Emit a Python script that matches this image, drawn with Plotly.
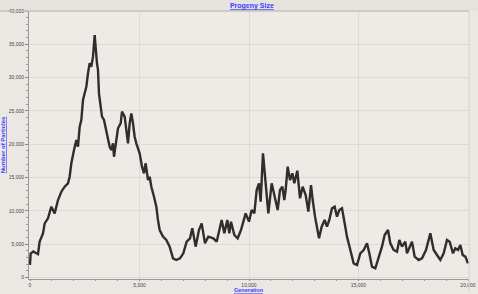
import plotly.graph_objects as go

generation = [0, 30, 150, 365, 441, 594, 670, 822, 974, 1126, 1279, 1431, 1583, 1735, 1811, 1887,
              2009, 2116, 2192, 2268, 2344, 2420, 2496, 2572, 2648, 2724, 2800, 2877, 2953, 2998,
              3059, 3105, 3150, 3227, 3288, 3379, 3485, 3561, 3638, 3714, 3790, 3835, 3942, 4018,
              4140, 4201, 4323, 4399, 4475, 4551, 4627, 4703, 4779, 4855, 5007, 5114, 5205, 5281,
              5388, 5464, 5540, 5662, 5768, 5844, 5921, 6073, 6225, 6377, 6530, 6682,
              6849, 7001, 7153, 7306, 7412, 7564, 7716, 7838, 7990, 8142, 8371, 8523, 8630, 8751,
              8873, 9010, 9101, 9178, 9330, 9482, 9634, 9741, 9847, 9999, 10121, 10243, 10350,
              10456, 10532, 10639, 10700, 10776, 10883, 11035, 11141, 11217, 11309, 11415, 11522,
              11613, 11674, 11765, 11872, 11979, 12070, 12207, 12329, 12451, 12588, 12710, 12832,
              12908, 13015, 13197, 13319, 13454, 13561, 13667, 13790, 13911, 14018, 14125, 14246,
              14368, 14474, 14627, 14779, 14931, 15083, 15236, 15388, 15494, 15616, 15768, 15920,
              16072, 16194, 16347, 16453, 16605, 16757, 16864, 16986, 17138, 17214, 17321, 17443,
              17565, 17747, 17900, 18082, 18280, 18432, 18585, 18737, 18889, 19041, 19163, 19315,
              19422, 19543, 19650, 19757, 19878, 20000]
particles = [1900, 3600, 3900, 3500, 5380, 6630, 8130, 8880, 10630, 9630, 11630, 12880, 13630, 14140,
             15130, 17140, 19140, 20640, 19630, 22640, 23640, 26640, 27650, 28640, 30650, 32150,
             31640, 33140, 36400, 34150, 32150, 31140, 27650, 25640, 24140, 23640, 22140, 20640,
             19630, 19140, 20140, 18130, 20640, 22400, 23140, 24890, 24140, 21640, 20140, 23140,
             24640, 23140, 21130, 20140, 18640, 16630, 15640, 17140, 14630, 15130, 13630, 12130,
             10630, 8630, 7130, 6130, 5630, 4630, 2880, 2630,
             2880, 3630, 5380, 5880, 7380, 4630, 7130, 8130, 5130, 6130, 5880, 5380, 7130, 8630,
             6630, 8630, 6630, 8380, 6380, 5880, 7130, 8630, 9630, 8380, 10130, 9630, 13130,
             14140, 11380, 18640, 16630, 13630, 9630, 14140, 12640, 11130, 10130, 13130, 13630,
             11630, 13130, 16630, 14630, 15640, 14140, 16030, 11880, 13630, 12380, 9880, 13880,
             11630, 9130, 5880, 7630, 8630, 7630, 8630, 10380, 10630, 9130, 10130, 10380,
             8130, 6130, 4130, 2130, 1880, 3630, 4130, 5130, 3630, 1630, 1380, 2880,
             4630, 6380, 7130, 5130, 4130, 3880, 5630, 4630, 5380, 3630, 4380, 5380,
             3130, 2630, 2880, 4130, 6630, 4130, 3380, 2630, 3630, 5630, 5380, 3630,
             4380, 4130, 4880, 3380, 3130, 2130]

x_ticks = [0, 5000, 10000, 15000, 20000]
x_tick_labels = ["0", "5,000", "10,000", "15,000", "20,000"]
y_ticks = [0, 5000, 10000, 15000, 20000, 25000, 30000, 35000, 40000]
y_tick_labels = ["0", "5,000", "10,000", "15,000", "20,000", "25,000", "30,000", "35,000", "40,000"]

BLUE = "#3b3bff"
FONT = "Liberation Sans"

fig = go.Figure()
fig.add_trace(go.Scatter(
    x=generation, y=particles, mode="lines",
    line=dict(color="#2e2e2e", width=2.4),
    showlegend=False, hoverinfo="skip"))

fig.update_layout(
    width=478, height=294,
    margin=dict(l=29, r=9, t=11, b=15, autoexpand=False),
    paper_bgcolor="#ebe8e4",
    plot_bgcolor="#eeebe7",
    font=dict(family=FONT, size=6, color="#444"),
    title=dict(text="<b><u>Progeny Size</u></b>", x=0.527, xanchor="center",
               y=0.98, yanchor="middle", font=dict(size=7, color=BLUE, family=FONT)),
    xaxis=dict(range=[-45.66, 20045.66], tickvals=x_ticks, ticktext=x_tick_labels,
               automargin=False,
               showgrid=True, gridcolor="#dedad5", gridwidth=1, zeroline=False,
               showline=True, linecolor="#9a9a9a", linewidth=1,
               ticks="outside", ticklen=1, tickcolor="#888",
               minor=dict(dtick=1000, ticks="outside", ticklen=1, tickcolor="#999", showgrid=False),
               tickfont=dict(size=5, color="#444", family=FONT)),
    yaxis=dict(range=[-225, 40000], tickvals=y_ticks, ticktext=y_tick_labels,
               automargin=False,
               showgrid=True, gridcolor="#dedad5", gridwidth=1, zeroline=False,
               showline=True, linecolor="#9a9a9a", linewidth=1,
               ticks="outside", ticklen=3, tickcolor="#888",
               minor=dict(dtick=1000, ticks="outside", ticklen=2, tickcolor="#999", showgrid=False),
               tickfont=dict(size=5, color="#444", family=FONT),
               title=dict(text="<b><u>Number of Particles</u></b>", standoff=2,
                          font=dict(size=6, color=BLUE, family=FONT))),
    annotations=[
        dict(text="<b><u>Generation</u></b>", xref="paper", yref="paper",
             x=0.5, y=-0.04, xanchor="center", yanchor="middle", showarrow=False,
             borderpad=0, font=dict(size=5.5, color=BLUE, family=FONT)),
    ],
    shapes=[
        dict(type="rect", xref="paper", yref="paper", x0=-0.1, x1=1.1, y0=1.0, y1=1.1,
             fillcolor="#e6e3df", line=dict(width=0), layer="below"),
        dict(type="line", xref="paper", yref="paper", x0=-0.1, x1=1.0, y0=1.0, y1=1.0,
             line=dict(color="#c4c0bb", width=1.5)),
        dict(type="line", xref="paper", yref="paper", x0=1.0, x1=1.0, y0=-0.05, y1=1.0,
             line=dict(color="#d8d4cf", width=1)),
    ],
)

fig.write_html("out.html", config={"displayModeBar": False},
               post_script="document.body.style.margin='0';")
